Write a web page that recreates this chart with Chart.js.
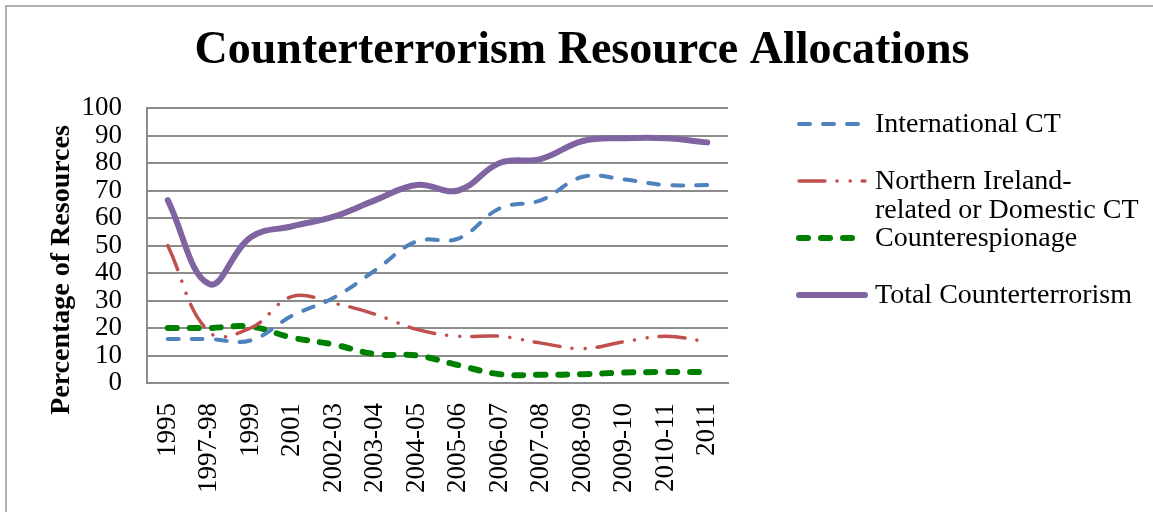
<!DOCTYPE html>
<html lang="en">
<head>
    <meta charset="UTF-8">
    <title>Counterterrorism Resource Allocations</title>
    <style>
        html, body { margin: 0; padding: 0; background: #fff; overflow: hidden; }
        #frame {
            position: absolute; left: 5px; top: 5px;
            width: 1200px; height: 600px;
            border-left: 2px solid #b0b0b0;
            border-top: 2px solid #b0b0b0;
            pointer-events: none;
        }
        #chart-container { position: absolute; left: 0; top: 0; width: 1153px; height: 512px; }
    </style>
</head>
<body>
    <div id="chart-container">
        <canvas id="ctChart" width="1153" height="512"></canvas>
    </div>
    <div id="frame"></div>

    <script src="https://cdn.jsdelivr.net/npm/chart.js"></script>
    <script>
        // Periods on the x axis
        const periods = ['1995', '1997-98', '1999', '2001', '2002-03', '2003-04', '2004-05',
                         '2005-06', '2006-07', '2007-08', '2008-09', '2009-10', '2010-11', '2011'];

        // Share of resources (%) per series
        const internationalCT = [16, 16, 15.5, 24.5, 31, 41, 51.5, 52.5, 63.5, 66.5, 75, 74, 72, 72];
        const northernIrelandCT = [50, 18.5, 20, 31.5, 29, 25, 19.5, 17, 17, 14.5, 12.5, 15, 17, 15];
        const counterespionage = [20, 20, 20.5, 16.5, 14, 10.5, 10, 6.5, 3.2, 3, 3.2, 3.8, 4, 4];
        const totalCT = [66.5, 36, 53, 57, 60.5, 66.5, 72, 70, 80, 81.5, 88, 89, 89, 87.5];

        const yTicks = [0, 10, 20, 30, 40, 50, 60, 70, 80, 90, 100];

        const chartTitle = 'Counterterrorism Resource Allocations';
        const yTitle = 'Percentage of Resources';

        const serif = "'Liberation Serif', 'Times New Roman', serif";
        const gridGray = '#8c8c8c';

        // legend on the right, title and rotated y title, drawn by hand
        const legendRows = [
            { lines: ['International CT'], y: 124 },
            { lines: ['Northern Ireland-', 'related or Domestic CT'], y: 181 },
            { lines: ['Counterespionage'], y: 238 },
            { lines: ['Total Counterterrorism'], y: 295 }
        ];

        const sidePlugin = {
            id: 'sideText',
            afterDraw(chart) {
                const c = chart.ctx;
                c.save();
                c.fillStyle = '#000';
                c.textAlign = 'center';
                c.textBaseline = 'middle';
                c.font = 'bold 46px ' + serif;
                c.fillText(chartTitle, 582, 51);

                c.font = 'bold 28px ' + serif;
                c.translate(62, 270);
                c.rotate(-Math.PI / 2);
                c.fillText(yTitle, 0, 0);
                c.restore();

                c.save();
                chart.data.datasets.forEach((ds, i) => {
                    const row = legendRows[i];
                    c.beginPath();
                    c.strokeStyle = ds.borderColor;
                    c.lineWidth = ds.borderWidth;
                    c.lineCap = ds.borderCapStyle || 'butt';
                    c.setLineDash(ds.borderDash || []);
                    c.moveTo(799, row.y);
                    c.lineTo(865, row.y);
                    c.stroke();
                    c.setLineDash([]);
                    c.font = '28px ' + serif;
                    c.fillStyle = '#000';
                    c.textAlign = 'left';
                    c.textBaseline = 'middle';
                    row.lines.forEach((t, j) => c.fillText(t, 875, row.y + 1 + j * 29));
                });
                c.restore();
            }
        };

        const ctx = document.getElementById('ctChart').getContext('2d');

        const ctChart = new Chart(ctx, {
            type: 'line',
            data: {
                labels: periods,
                datasets: [{
                    label: 'International CT',
                    data: internationalCT,
                    borderColor: '#4F81BD',
                    borderWidth: 4,
                    borderDash: [11, 13],
                    borderCapStyle: 'round'
                }, {
                    label: 'Northern Ireland-related or Domestic CT',
                    data: northernIrelandCT,
                    borderColor: '#C0504D',
                    borderWidth: 3.5,
                    borderDash: [26, 12, 0.1, 13, 0.1, 12],
                    borderCapStyle: 'round'
                }, {
                    label: 'Counterespionage',
                    data: counterespionage,
                    borderColor: '#008000',
                    borderWidth: 6,
                    borderDash: [9, 13],
                    borderCapStyle: 'round'
                }, {
                    label: 'Total Counterterrorism',
                    data: totalCT,
                    borderColor: '#8064A2',
                    borderWidth: 6,
                    borderCapStyle: 'round'
                }]
            },
            options: {
                responsive: false,
                animation: false,
                layout: { padding: { left: 0, right: 425, top: 108, bottom: 0 } },
                elements: {
                    point: { radius: 0, hoverRadius: 0 },
                    line: { tension: 0.4, fill: false }
                },
                scales: {
                    x: {
                        offset: true,
                        grid: { display: false, drawTicks: false },
                        border: { display: true, color: gridGray, width: 2 },
                        ticks: {
                            color: '#000',
                            font: { family: serif, size: 27 },
                            minRotation: 90,
                            maxRotation: 90,
                            autoSkip: false,
                            padding: 20
                        },
                        afterFit(scale) { scale.height = 129; }
                    },
                    y: {
                        min: 0,
                        max: 100,
                        afterBuildTicks(scale) { scale.ticks = yTicks.map(v => ({ value: v })); },
                        grid: { color: gridGray, lineWidth: 2, drawTicks: false },
                        border: { display: true, color: gridGray, width: 2 },
                        ticks: {
                            color: '#000',
                            font: { family: serif, size: 27 },
                            autoSkip: false,
                            padding: 25
                        },
                        afterFit(scale) { scale.width = 147; }
                    }
                },
                plugins: {
                    legend: { display: false },
                    tooltip: { enabled: false },
                    title: { display: false }
                }
            },
            plugins: [sidePlugin]
        });
    </script>
</body>
</html>
